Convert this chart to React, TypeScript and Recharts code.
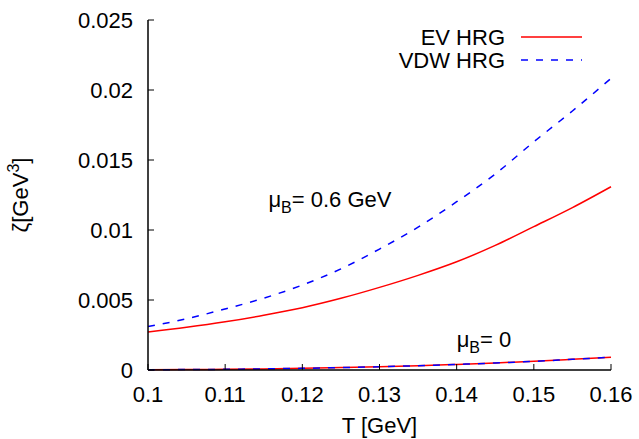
import {
  LineChart, Line, XAxis, YAxis, ReferenceDot, Customized,
} from 'recharts'

// temperature grid (GeV) and bulk viscosity zeta (GeV^3)
const TEMPS = [0.1, 0.105, 0.11, 0.115, 0.12, 0.125, 0.13, 0.135, 0.14, 0.145, 0.15, 0.155, 0.16]
const EV_MU06 = [0.00272, 0.00305, 0.00344, 0.00391, 0.00445, 0.00512, 0.0059, 0.00676, 0.00773, 0.0089, 0.01024, 0.0116, 0.01309]
const VDW_MU06 = [0.0031, 0.00366, 0.00436, 0.00513, 0.00607, 0.00722, 0.00864, 0.0102, 0.01202, 0.014, 0.0163, 0.0185, 0.02083]
const EV_MU0 = [0.00002, 0.00003, 0.00005, 0.00008, 0.00012, 0.00017, 0.00023, 0.00031, 0.0004, 0.0005, 0.00062, 0.00076, 0.00091]
const VDW_MU0 = [0.00002, 0.00003, 0.00005, 0.00008, 0.00012, 0.00017, 0.00023, 0.00031, 0.0004, 0.0005, 0.00062, 0.00076, 0.00091]

const X_TICKS = [0.1, 0.11, 0.12, 0.13, 0.14, 0.15, 0.16]
const Y_TICKS = [0, 0.005, 0.01, 0.015, 0.02, 0.025]

const rows = TEMPS.map((T, i) => ({
  T,
  ev06: EV_MU06[i],
  vdw06: VDW_MU06[i],
  ev0: EV_MU0[i],
  vdw0: VDW_MU0[i],
}))

const W = 639
const H = 439
const PLOT_LEFT = 148
const PLOT_RIGHT = 611
const PLOT_TOP = 20
const PLOT_BOTTOM = 370
const TICK_LEN = 6

const FONT = '"Liberation Sans", Arial, Helvetica, sans-serif'
const TXT = { fontFamily: FONT, fontSize: 22, fill: '#000' }
const RED = '#ff0000'
const BLUE = '#0000ff'
const DASH = '7 8'

function BottomTick({ x, payload }: any) {
  return (
    <g>
      <line x1={x} x2={x} y1={PLOT_BOTTOM} y2={PLOT_BOTTOM - TICK_LEN} stroke="#000" />
      <text x={x} y={PLOT_BOTTOM + 32} textAnchor="middle" {...TXT}>{String(payload.value)}</text>
    </g>
  )
}

function TopTick({ x }: any) {
  return <line x1={x} x2={x} y1={PLOT_TOP} y2={PLOT_TOP + TICK_LEN} stroke="#000" />
}

function LeftTick({ y, payload }: any) {
  return (
    <g>
      <line x1={PLOT_LEFT} x2={PLOT_LEFT + TICK_LEN} y1={y} y2={y} stroke="#000" />
      <text x={PLOT_LEFT - 15} y={y + 8} textAnchor="end" {...TXT}>{String(payload.value)}</text>
    </g>
  )
}

function RightTick({ y }: any) {
  return <line x1={PLOT_RIGHT} x2={PLOT_RIGHT - TICK_LEN} y1={y} y2={y} stroke="#000" />
}

function MuLabel(text: string) {
  return ({ cx, cy }: any) => (
    <text x={cx} y={cy} {...TXT}>
      μ<tspan dy={6} fontSize={16}>B</tspan><tspan dy={-6}>{text}</tspan>
    </text>
  )
}

function Decorations() {
  const midX = (PLOT_LEFT + PLOT_RIGHT) / 2
  const midY = (PLOT_TOP + PLOT_BOTTOM) / 2
  return (
    <g>
      {/* key, top right inside the frame */}
      <text x={505} y={45} textAnchor="end" {...TXT}>EV HRG</text>
      <line x1={521} x2={582} y1={37} y2={37} stroke={RED} strokeWidth={1.5} />
      <text x={505} y={68} textAnchor="end" {...TXT}>VDW HRG</text>
      <line x1={521} x2={582} y1={60} y2={60} stroke={BLUE} strokeWidth={1.5} strokeDasharray={DASH} />
      {/* axis titles */}
      <text x={midX} y={433} textAnchor="middle" {...TXT}>T [GeV]</text>
      <text x={28} y={midY} textAnchor="middle" transform={`rotate(-90, 28, ${midY})`} {...TXT}>
        ζ[GeV<tspan dy={-9} fontSize={16}>3</tspan><tspan dy={9}>]</tspan>
      </text>
    </g>
  )
}

export default function App() {
  return (
    <div style={{ position: 'absolute', left: 0, top: 0, background: '#fff' }}>
      <LineChart
        width={W}
        height={H}
        data={rows}
        margin={{ top: PLOT_TOP, right: W - PLOT_RIGHT, bottom: 19, left: 68 }}
      >
        <XAxis
          dataKey="T" type="number" domain={[0.1, 0.16]} ticks={X_TICKS} interval={0}
          tick={BottomTick} tickLine={false} height={50}
          axisLine={{ stroke: '#000', strokeWidth: 1.5 }}
        />
        <XAxis
          xAxisId="top" orientation="top" dataKey="T" type="number" domain={[0.1, 0.16]}
          ticks={X_TICKS} interval={0} tick={TopTick} tickLine={false} height={0}
          axisLine={{ stroke: '#000', strokeWidth: 1.5 }}
        />
        <YAxis
          type="number" domain={[0, 0.025]} ticks={Y_TICKS} interval={0}
          tick={LeftTick} tickLine={false} width={80}
          axisLine={{ stroke: '#000', strokeWidth: 1.5 }}
        />
        <YAxis
          yAxisId="right" orientation="right" type="number" domain={[0, 0.025]}
          ticks={Y_TICKS} interval={0} tick={RightTick} tickLine={false} width={0}
          axisLine={{ stroke: '#000', strokeWidth: 1.5 }}
        />
        <Line type="monotone" dataKey="ev06" stroke={RED} strokeWidth={1.5} dot={false} isAnimationActive={false} />
        <Line type="monotone" dataKey="vdw06" stroke={BLUE} strokeWidth={1.5} strokeDasharray={DASH} dot={false} isAnimationActive={false} />
        <Line type="monotone" dataKey="ev0" stroke={RED} strokeWidth={1.5} dot={false} isAnimationActive={false} />
        <Line type="monotone" dataKey="vdw0" stroke={BLUE} strokeWidth={1.5} strokeDasharray={DASH} dot={false} isAnimationActive={false} />
        <ReferenceDot x={0.1156} y={0.01164} r={0} shape={MuLabel('= 0.6 GeV')} />
        <ReferenceDot x={0.14} y={0.00164} r={0} shape={MuLabel('= 0')} />
        <Customized component={Decorations} />
      </LineChart>
    </div>
  )
}
